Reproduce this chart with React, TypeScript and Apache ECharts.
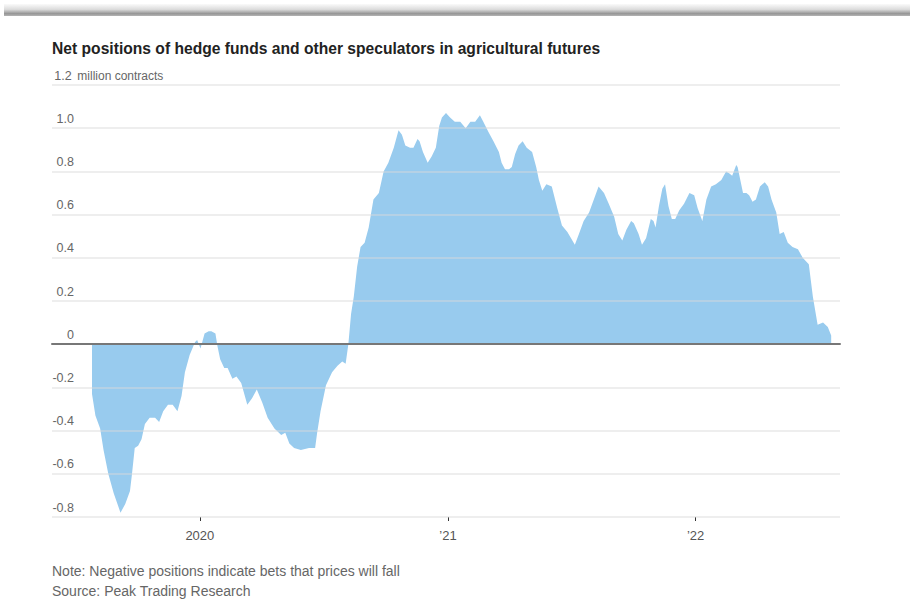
import React, { useEffect, useRef } from "react";
import * as echarts from "echarts";

const TITLE = "Net positions of hedge funds and other speculators in agricultural futures";
const NOTE = "Note: Negative positions indicate bets that prices will fall";
const SOURCE = "Source: Peak Trading Research";
const UNIT = " million contracts";

const dates = [
  "2019-07-26", "2019-07-31", "2019-08-07", "2019-08-12", "2019-08-19", "2019-08-27", "2019-09-06",
  "2019-09-13", "2019-09-20", "2019-09-23", "2019-09-27", "2019-10-02", "2019-10-07", "2019-10-12",
  "2019-10-19", "2019-10-27", "2019-11-02", "2019-11-08", "2019-11-15", "2019-11-22", "2019-11-29",
  "2019-12-05", "2019-12-10", "2019-12-17", "2019-12-25", "2019-12-28",
  "2020-01-02", "2020-01-08", "2020-01-14", "2020-01-18", "2020-01-24", "2020-01-27", "2020-01-31",
  "2020-02-06", "2020-02-11", "2020-02-18", "2020-02-24", "2020-03-02", "2020-03-11", "2020-03-18",
  "2020-03-25", "2020-04-02", "2020-04-10", "2020-04-20", "2020-04-30", "2020-05-06", "2020-05-12",
  "2020-05-19", "2020-05-29", "2020-06-10", "2020-06-19", "2020-06-22", "2020-06-27", "2020-07-05",
  "2020-07-14", "2020-07-22", "2020-07-29", "2020-08-03", "2020-08-07", "2020-08-11", "2020-08-15",
  "2020-08-20", "2020-08-25", "2020-08-31", "2020-09-06", "2020-09-13", "2020-09-21", "2020-09-28",
  "2020-10-05", "2020-10-13", "2020-10-20", "2020-10-25", "2020-10-30", "2020-11-06", "2020-11-11",
  "2020-11-17", "2020-11-20", "2020-11-25", "2020-12-02", "2020-12-08", "2020-12-14", "2020-12-19",
  "2020-12-23", "2020-12-29",
  "2021-01-04", "2021-01-11", "2021-01-19", "2021-01-27", "2021-02-03", "2021-02-10", "2021-02-17",
  "2021-02-22", "2021-03-02", "2021-03-09", "2021-03-17", "2021-03-21", "2021-03-26", "2021-04-01",
  "2021-04-05", "2021-04-10", "2021-04-15", "2021-04-21", "2021-04-27", "2021-05-05", "2021-05-11",
  "2021-05-15", "2021-05-20", "2021-05-26", "2021-06-03", "2021-06-11", "2021-06-18", "2021-06-26",
  "2021-07-07", "2021-07-13", "2021-07-20", "2021-07-28", "2021-08-04", "2021-08-11", "2021-08-19",
  "2021-08-26", "2021-09-03", "2021-09-09", "2021-09-15", "2021-09-21", "2021-09-28", "2021-10-02",
  "2021-10-09", "2021-10-14", "2021-10-20", "2021-10-27", "2021-10-31", "2021-11-03", "2021-11-08",
  "2021-11-13", "2021-11-17", "2021-11-22", "2021-11-27", "2021-12-02", "2021-12-08", "2021-12-15",
  "2021-12-23", "2021-12-30",
  "2022-01-04", "2022-01-11", "2022-01-17", "2022-01-24", "2022-01-31", "2022-02-08", "2022-02-15",
  "2022-02-20", "2022-02-24", "2022-03-02", "2022-03-04", "2022-03-12", "2022-03-17", "2022-03-21",
  "2022-03-26", "2022-03-31", "2022-04-06", "2022-04-13", "2022-04-18", "2022-04-23", "2022-04-30",
  "2022-05-05", "2022-05-11", "2022-05-17", "2022-05-24", "2022-06-01", "2022-06-08", "2022-06-17",
  "2022-06-23", "2022-06-30", "2022-07-08", "2022-07-15", "2022-07-20",
];

const values = [
  -0.23, -0.33, -0.39, -0.49, -0.6, -0.69, -0.78,
  -0.74, -0.68, -0.6, -0.48, -0.47, -0.44, -0.37,
  -0.34, -0.34, -0.36, -0.31, -0.28, -0.28, -0.31,
  -0.24, -0.13, -0.05, 0.01, 0.02,
  -0.02, 0.05, 0.06, 0.06, 0.05, -0.01, -0.07,
  -0.11, -0.11, -0.16, -0.15, -0.18, -0.28, -0.25,
  -0.21, -0.27, -0.34, -0.39, -0.42, -0.41, -0.46,
  -0.48, -0.49, -0.48, -0.48, -0.41, -0.31, -0.19,
  -0.13, -0.1, -0.08, -0.09, 0.0, 0.14, 0.22,
  0.36, 0.45, 0.47, 0.54, 0.67, 0.7, 0.8,
  0.84, 0.91, 0.99, 0.97, 0.92, 0.91, 0.91,
  0.95, 0.94, 0.89, 0.84, 0.87, 0.91, 1.01,
  1.05, 1.07,
  1.05, 1.03, 1.03, 1.0, 1.03, 1.03, 1.06,
  1.03, 0.98, 0.94, 0.89, 0.84, 0.81, 0.81,
  0.82, 0.88, 0.92, 0.94, 0.91, 0.89, 0.82,
  0.76, 0.71, 0.74, 0.73, 0.63, 0.55, 0.52,
  0.46, 0.51, 0.57, 0.61, 0.67, 0.73, 0.7,
  0.65, 0.59, 0.51, 0.48, 0.53, 0.57, 0.56,
  0.51, 0.46, 0.49, 0.58, 0.57, 0.54, 0.64,
  0.72, 0.74, 0.64, 0.58, 0.58, 0.62, 0.65,
  0.7, 0.69,
  0.63, 0.57, 0.67, 0.73, 0.74, 0.76, 0.8,
  0.79, 0.78, 0.83, 0.82, 0.7, 0.7, 0.69,
  0.66, 0.67, 0.73, 0.75, 0.73, 0.67, 0.61,
  0.51, 0.52, 0.47, 0.45, 0.44, 0.4, 0.37,
  0.22, 0.09, 0.1, 0.08, 0.04,
];

const yTicks = [-0.8, -0.6, -0.4, -0.2, 0, 0.2, 0.4, 0.6, 0.8, 1.0, 1.2];
const yearTicks = ["2020-01-01", "2021-01-01", "2022-01-01"];
const xMin = "2019-05-28";
const xMax = "2022-08-02";

function toTs(s: string): number {
  const [y, m, d] = s.split("-").map(Number);
  return new Date(y, m - 1, d).getTime();
}

export default function App() {
  const ref = useRef<HTMLDivElement>(null);

  useEffect(() => {
    if (!ref.current) return;
    const chart = echarts.init(ref.current, null, { renderer: "svg" });
    const font = "'Liberation Sans', Arial, sans-serif";
    const seriesData = dates.map((d, i) => [toTs(d), values[i]]);
    const yearTs = yearTicks.map(toTs);

    chart.setOption({
      animation: false,
      backgroundColor: "#ffffff",
      graphic: [
        {
          type: "rect",
          shape: { x: 4, y: 4, width: 906, height: 12 },
          style: {
            fill: {
              type: "linear", x: 0, y: 0, x2: 0, y2: 1,
              colorStops: [
                { offset: 0, color: "#fafafa" },
                { offset: 0.45, color: "#dcdcdc" },
                { offset: 0.8, color: "#969696" },
                { offset: 1, color: "#b4b4b4" },
              ],
            },
          },
          silent: true,
        },
        {
          type: "text",
          x: 52,
          y: 48,
          scaleX: 0.92,
          style: {
            text: TITLE,
            font: `bold 17px ${font}`,
            fill: "#222222",
            verticalAlign: "middle",
          },
        },
        {
          type: "text",
          x: 52,
          y: 571,
          style: { text: NOTE, font: `14px ${font}`, fill: "#666666", verticalAlign: "middle" },
        },
        {
          type: "text",
          x: 52,
          y: 591,
          style: { text: SOURCE, font: `14px ${font}`, fill: "#666666", verticalAlign: "middle" },
        },
      ],
      grid: { left: 52, right: 70, top: 85, bottom: 84, containLabel: false },
      xAxis: [
        {
          type: "value",
          min: toTs(xMin),
          max: toTs(xMax),
          axisLine: { show: false, onZero: false },
          splitLine: { show: false },
          axisTick: {
            show: true,
            length: 4,
            lineStyle: { color: "#333333", width: 1 },
            customValues: yearTs,
          },
          axisLabel: {
            margin: 12,
            fontFamily: font,
            fontSize: 13,
            color: "#555555",
            customValues: yearTs,
            formatter: (v: number) => {
              const y = new Date(v).getFullYear();
              return y === 2020 ? "2020" : "\u2019" + String(y).slice(2);
            },
          },
        },
        {
          type: "value",
          min: toTs(xMin),
          max: toTs(xMax),
          position: "top",
          z: 6,
          axisLine: { show: true, onZero: true, lineStyle: { color: "#777777", width: 2 } },
          axisTick: { show: false },
          axisLabel: { show: false },
          splitLine: { show: false },
        },
      ],
      yAxis: {
        type: "value",
        min: yTicks[0],
        max: yTicks[yTicks.length - 1],
        interval: 0.2,
        z: 4,
        axisLine: { show: false },
        axisTick: { show: false },
        splitLine: { show: true, lineStyle: { color: "rgba(217,217,217,0.6)", width: 1.5 } },
        axisLabel: {
          margin: 0,
          align: "left",
          verticalAlign: "bottom",
          padding: [0, 0, 3, 0],
          fontFamily: font,
          fontSize: 12.5,
          color: "#666666",
          formatter: (v: number) => {
            const s = Math.abs(v) < 1e-9 ? "0" : v.toFixed(1);
            if (Math.abs(v - 1.2) < 1e-6) return `{v|${s}}{u|${UNIT}}`;
            return `{v|${s}}`;
          },
          rich: {
            v: { width: 22, align: "right", fontFamily: font, fontSize: 12.5, color: "#666666" },
            u: { fontFamily: font, fontSize: 12, color: "#666666" },
          },
        },
      },
      series: [
        {
          type: "line",
          xAxisIndex: 0,
          yAxisIndex: 0,
          data: seriesData,
          showSymbol: false,
          symbol: "none",
          z: 2,
          lineStyle: { width: 0, opacity: 0 },
          areaStyle: { color: "#98cbee", opacity: 1 },
          silent: true,
        },
      ],
    });

    return () => chart.dispose();
  }, []);

  return (
    <div
      ref={ref}
      style={{ position: "fixed", left: 0, top: 0, width: 910, height: 601, background: "#fff" }}
    />
  );
}
